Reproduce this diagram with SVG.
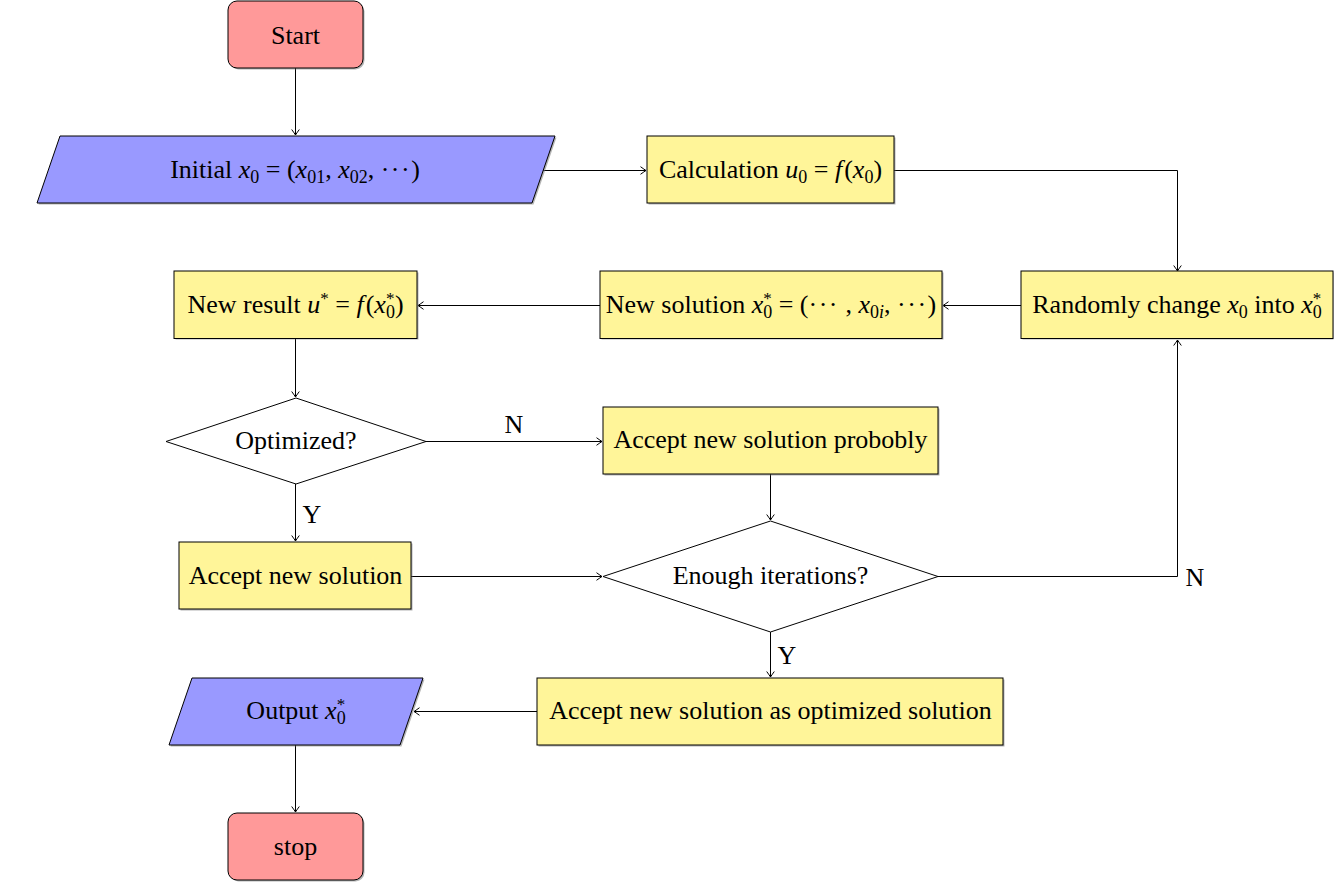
<svg xmlns="http://www.w3.org/2000/svg" width="1334" height="882" viewBox="0 0 1334 882">
<style>
text{font-family:"Liberation Serif","Times New Roman",serif;font-size:26px;fill:#000;text-anchor:middle}
.i{font-style:italic}
.s{font-size:18px}
.sp{font-size:17px}
.d{letter-spacing:1.5px}
.red{fill:#FF9999;stroke:#000;stroke-width:1}
.blue{fill:#9999FF;stroke:#000;stroke-width:1}
.yel{fill:#FFF599;stroke:#000;stroke-width:1}
.dia{fill:#fff;stroke:#000;stroke-width:1}
.sh{fill:#777;opacity:.55;stroke:none}
.c{fill:none;stroke:#000;stroke-width:1}
</style>
<defs>
<marker id="ar" viewBox="-7 -5 8 10" refX="0" refY="0" markerWidth="8" markerHeight="10" markerUnits="userSpaceOnUse" orient="auto">
<path d="M-5.5,-3.8 Q-1.5,-0.9 0,0 Q-1.5,0.9 -5.5,3.8" fill="none" stroke="#000" stroke-width="1"/>
</marker>
</defs>
<rect width="1334" height="882" fill="#fff"/>

<g id="connectors">
<path class="c" marker-end="url(#ar)" d="M295.5,68 V135"/>
<path class="c" marker-end="url(#ar)" d="M543,170.5 H646"/>
<path class="c" marker-end="url(#ar)" d="M894,170.5 H1177.5 V271"/>
<path class="c" marker-end="url(#ar)" d="M1021,305.5 H943"/>
<path class="c" marker-end="url(#ar)" d="M600,305.5 H418"/>
<path class="c" marker-end="url(#ar)" d="M295.5,339 V397"/>
<path class="c" marker-end="url(#ar)" d="M426,441.5 H602"/>
<path class="c" marker-end="url(#ar)" d="M295.5,484 V541"/>
<path class="c" marker-end="url(#ar)" d="M770.5,474 V520"/>
<path class="c" marker-end="url(#ar)" d="M411,576.5 H602"/>
<path class="c" marker-end="url(#ar)" d="M938,576.5 H1177.5 V340"/>
<path class="c" marker-end="url(#ar)" d="M770.5,632 V677"/>
<path class="c" marker-end="url(#ar)" d="M537,711.5 H414"/>
<path class="c" marker-end="url(#ar)" d="M295.5,745 V812"/>
<text x="514" y="433">N</text>
<text x="312" y="523">Y</text>
<text x="1195" y="586">N</text>
<text x="787" y="664">Y</text>
</g>

<g id="start">
<rect class="sh" x="229.5" y="2.5" width="135" height="67" rx="9"/>
<rect class="red" x="228" y="1" width="135" height="67" rx="9"/>
<text x="295.5" y="43.5">Start</text>
</g>

<g id="initial">
<polygon class="sh" points="61.5,137.5 556.5,137.5 533.5,204.5 38.5,204.5"/>
<polygon class="blue" points="60,136 555,136 532,203 37,203"/>
<text x="295" y="178">Initial <tspan class="i">x</tspan><tspan class="s" dy="5">0</tspan><tspan dy="-5"> = (</tspan><tspan class="i">x</tspan><tspan class="s" dy="5">01</tspan><tspan dy="-5">, </tspan><tspan class="i">x</tspan><tspan class="s" dy="5">02</tspan><tspan dy="-5">, </tspan><tspan class="d">···</tspan><tspan>)</tspan></text>
</g>

<g id="calculation">
<rect class="sh" x="648.5" y="137.5" width="247" height="67"/>
<rect class="yel" x="647" y="136" width="247" height="67"/>
<text x="770.5" y="178">Calculation <tspan class="i">u</tspan><tspan class="s" dy="5">0</tspan><tspan dy="-5"> = </tspan><tspan class="i">f</tspan><tspan dx="2">(</tspan><tspan class="i">x</tspan><tspan class="s" dy="5">0</tspan><tspan dy="-5">)</tspan></text>
</g>

<g id="randomly">
<rect class="sh" x="1022.5" y="272.5" width="311" height="67"/>
<rect class="yel" x="1021" y="271" width="312" height="67.5"/>
<text x="1177" y="313">Randomly change <tspan class="i">x</tspan><tspan class="s" dy="5">0</tspan><tspan dy="-5"> into </tspan><tspan class="i">x</tspan><tspan class="sp" dy="-9">*</tspan><tspan class="s" dx="-8.5" dy="14">0</tspan></text>
</g>

<g id="newsolution">
<rect class="sh" x="601.5" y="272.5" width="342" height="67"/>
<rect class="yel" x="600" y="271" width="342" height="67.5"/>
<text x="771" y="313">New solution <tspan class="i">x</tspan><tspan class="sp" dy="-9">*</tspan><tspan class="s" dx="-8.5" dy="14">0</tspan><tspan dy="-5"> = (</tspan><tspan class="d">···</tspan><tspan> , </tspan><tspan class="i">x</tspan><tspan class="s" dy="5">0</tspan><tspan class="s i">i</tspan><tspan dy="-5">, </tspan><tspan class="d">···</tspan><tspan>)</tspan></text>
</g>

<g id="newresult">
<rect class="sh" x="175.5" y="272.5" width="243" height="67"/>
<rect class="yel" x="174" y="271" width="243" height="67.5"/>
<text x="295.5" y="313">New result <tspan class="i">u</tspan><tspan class="sp" dy="-9">*</tspan><tspan dy="9"> = </tspan><tspan class="i">f</tspan><tspan dx="2">(</tspan><tspan class="i">x</tspan><tspan class="sp" dy="-9">*</tspan><tspan class="s" dx="-8.5" dy="14">0</tspan><tspan dy="-5">)</tspan></text>
</g>

<g id="optimized">
<polygon class="dia" points="296,398 426,441.5 296,484 166,441.5"/>
<text x="296" y="449">Optimized?</text>
</g>

<g id="probobly">
<rect class="sh" x="604.5" y="408.5" width="335" height="67"/>
<rect class="yel" x="603" y="407" width="335" height="67"/>
<text x="770.5" y="448">Accept new solution probobly</text>
</g>

<g id="acceptnew">
<rect class="sh" x="180.5" y="543.5" width="232" height="67"/>
<rect class="yel" x="179" y="542" width="232" height="67"/>
<text x="295.5" y="584">Accept new solution</text>
</g>

<g id="enough">
<polygon class="dia" points="770.5,521 938,576.5 770.5,632 603,576.5"/>
<text x="770.5" y="584">Enough iterations?</text>
</g>

<g id="acceptopt">
<rect class="sh" x="538.5" y="679.5" width="466" height="67"/>
<rect class="yel" x="537" y="678" width="466" height="67"/>
<text x="770.5" y="719">Accept new solution as optimized solution</text>
</g>

<g id="output">
<polygon class="sh" points="193.5,679.5 424.5,679.5 401.5,746.5 170.5,746.5"/>
<polygon class="blue" points="192,678 423,678 400,745 169,745"/>
<text x="296" y="719">Output <tspan class="i">x</tspan><tspan class="sp" dy="-9">*</tspan><tspan class="s" dx="-8.5" dy="14">0</tspan></text>
</g>

<g id="stop">
<rect class="sh" x="229.5" y="814.5" width="135" height="67" rx="9"/>
<rect class="red" x="228" y="813" width="135" height="67" rx="9"/>
<text x="295.5" y="855">stop</text>
</g>
</svg>
